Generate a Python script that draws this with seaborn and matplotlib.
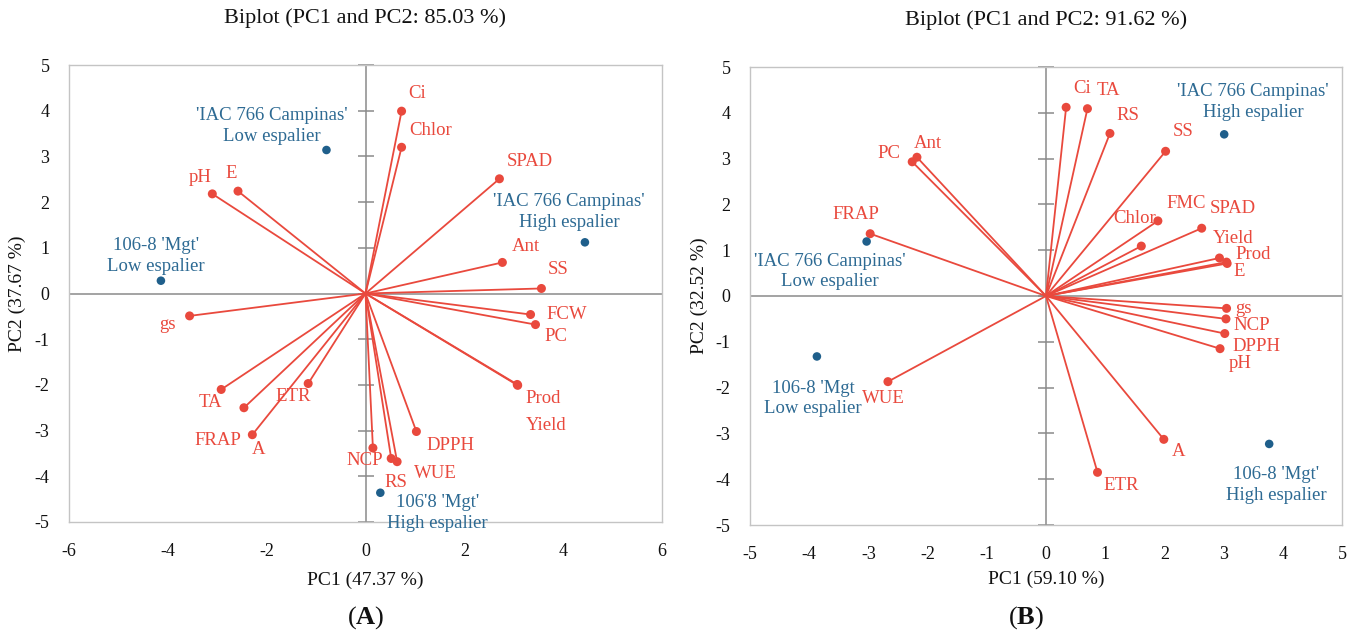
import matplotlib
matplotlib.use("Agg")
import matplotlib.pyplot as plt
import seaborn as sns
import pandas as pd
import numpy as np

# ---- Biplot A: variable loadings and observation scores ----
a_vars = ["Ci", "Chlor", "SPAD", "Ant", "SS", "FCW", "PC", "Prod", "Yield", "DPPH",
          "WUE", "RS", "NCP", "A", "FRAP", "TA", "ETR", "gs", "pH", "E"]
a_pc1 = [0.73, 0.73, 2.71, 2.77, 3.56, 3.34, 3.44, 3.07, 3.08, 1.03,
         0.64, 0.52, 0.15, -2.29, -2.46, -2.92, -1.16, -3.56, -3.10, -2.58]
a_pc2 = [3.99, 3.20, 2.51, 0.68, 0.11, -0.46, -0.68, -1.99, -2.01, -3.02,
         -3.68, -3.61, -3.38, -3.09, -2.50, -2.10, -1.97, -0.49, 2.18, 2.24]

a_obs = ["'IAC 766 Campinas'\nLow espalier", "'IAC 766 Campinas'\nHigh espalier",
         "106-8 'Mgt'\nLow espalier", "106'8 'Mgt'\nHigh espalier"]
a_obs_pc1 = [-0.79, 4.44, -4.14, 0.30]
a_obs_pc2 = [3.14, 1.12, 0.28, -4.36]

# ---- Biplot B ----
b_vars = ["Ci", "TA", "RS", "SS", "FMC", "Chlor", "SPAD", "Yield", "Prod", "E",
          "gs", "NCP", "DPPH", "pH", "A", "ETR", "WUE", "FRAP", "PC", "Ant"]
b_pc1 = [0.34, 0.70, 1.08, 2.02, 1.89, 1.61, 2.63, 2.93, 3.05, 3.06,
         3.05, 3.04, 3.02, 2.94, 1.99, 0.87, -2.67, -2.97, -2.26, -2.18]
b_pc2 = [4.12, 4.09, 3.55, 3.16, 1.64, 1.09, 1.48, 0.83, 0.74, 0.71,
         -0.27, -0.50, -0.82, -1.15, -3.13, -3.85, -1.87, 1.36, 2.93, 3.03]

b_obs = ["'IAC 766 Campinas'\nHigh espalier", "'IAC 766 Campinas'\nLow espalier",
         "106-8 'Mgt\nLow espalier", "106-8 'Mgt'\nHigh espalier"]
b_obs_pc1 = [3.01, -3.03, -3.87, 3.77]
b_obs_pc2 = [3.53, 1.19, -1.32, -3.23]

titles = ["Biplot (PC1 and PC2: 85.03 %)", "Biplot (PC1 and PC2: 91.62 %)"]
xlabels = ["PC1 (47.37 %)", "PC1 (59.10 %)"]
ylabels = ["PC2 (37.67 %)", "PC2 (32.52 %)"]
panel_tags = ["A", "B"]
a_xticks = [-6, -4, -2, 0, 2, 4, 6]
b_xticks = [-5, -4, -3, -2, -1, 0, 1, 2, 3, 4, 5]
yticks = [-5, -4, -3, -2, -1, 0, 1, 2, 3, 4, 5]

# label placement (pixel offsets from each point)
a_var_off = {"Ci": (16, 18), "Chlor": (29, 17), "SPAD": (30, 17), "Ant": (23, 16),
             "SS": (17, 19), "FCW": (36, 0), "PC": (20, -12), "Prod": (26, -14),
             "Yield": (28, -40), "DPPH": (34, -14), "WUE": (38, -12), "RS": (5, -24),
             "NCP": (-8, -13), "A": (6, -15), "FRAP": (-26, -33), "TA": (-11, -13),
             "ETR": (-15, -13), "gs": (-22, -9), "pH": (-12, 16), "E": (-7, 18)}
a_obs_off = [(-55, 24), (-16, 30), (-5, 25), (57, -20)]
b_var_off = {"Ci": (16, 19), "TA": (21, 18), "RS": (18, 18), "SS": (18, 20),
             "FMC": (28, 17), "Chlor": (-7, 28), "SPAD": (31, 20), "Yield": (14, 19),
             "Prod": (27, 8), "E": (12, -8), "gs": (17, 0), "NCP": (26, -7),
             "DPPH": (32, -13), "pH": (20, -15), "A": (15, -12), "ETR": (24, -13),
             "WUE": (-5, -17), "FRAP": (-14, 19), "PC": (-23, 8), "Ant": (11, 14)}
b_obs_off = [(29, 32), (-37, -30), (-4, -42), (7, -41)]

RED = "#E9493D"
BLUE_DOT = "#1F5F8B"
BLUE_TXT = "#2D6A93"
AXIS_GRAY = "#8A8A8A"
FRAME_GRAY = "#C4C4C4"

sns.set_theme(style="white")
plt.rcParams["font.family"] = ["Liberation Serif", "DejaVu Serif"]
plt.rcParams["axes.unicode_minus"] = False
plt.rcParams["mathtext.fontset"] = "custom"
plt.rcParams["mathtext.rm"] = "Liberation Serif"
plt.rcParams["mathtext.bf"] = "Liberation Serif:bold"

W, H = 1359, 637
fig = plt.figure(figsize=(W / 100, H / 100), dpi=100)
ax_a = fig.add_axes([69 / W, 1 - 522 / H, (662 - 69) / W, (522 - 65) / H])
ax_b = fig.add_axes([750 / W, 1 - 525 / H, (1342 - 750) / W, (525 - 67) / H])


def biplot(ax, names, pc1, pc2, obs, opc1, opc2, var_off, obs_off, xticks, xlim):
    ax.set_xlim(*xlim)
    ax.set_ylim(-5, 5)
    ax.axhline(0, color=AXIS_GRAY, lw=1.1, zorder=1)
    ax.axvline(0, color=AXIS_GRAY, lw=1.1, zorder=1)
    ax.plot(np.zeros(len(yticks)), yticks, linestyle="none", marker="_",
            markersize=11, markeredgewidth=1.1, color=AXIS_GRAY, zorder=1,
            clip_on=False)

    for x, y in zip(pc1, pc2):
        ax.plot([0, x], [0, y], color=RED, lw=1.3, zorder=2)

    var_df = pd.DataFrame({"PC1": pc1, "PC2": pc2, "var": names})
    obs_df = pd.DataFrame({"PC1": opc1, "PC2": opc2, "obs": obs})
    sns.scatterplot(data=var_df, x="PC1", y="PC2", color=RED, s=42,
                    edgecolor="none", ax=ax, zorder=3, legend=False)
    sns.scatterplot(data=obs_df, x="PC1", y="PC2", color=BLUE_DOT, s=38,
                    edgecolor="none", ax=ax, zorder=3, legend=False)

    for n, x, y in zip(names, pc1, pc2):
        ax.annotate(n, (x, y), xytext=var_off[n], textcoords="offset pixels",
                    ha="center", va="center", color=RED, fontsize=13.5, zorder=4)
    for n, x, y, off in zip(obs, opc1, opc2, obs_off):
        ax.annotate(n, (x, y), xytext=off, textcoords="offset pixels",
                    ha="center", va="center", color=BLUE_TXT, fontsize=13.5,
                    linespacing=1.3, zorder=4)

    ax.set_xticks(xticks)
    ax.set_yticks(yticks)
    ax.tick_params(axis="both", length=0, labelsize=13, colors="#111111")
    ax.tick_params(axis="y", pad=14)
    ax.tick_params(axis="x", pad=15)
    for sp in ax.spines.values():
        sp.set_color(FRAME_GRAY)
        sp.set_linewidth(1.0)
    ax.grid(False)


biplot(ax_a, a_vars, a_pc1, a_pc2, a_obs, a_obs_pc1, a_obs_pc2,
       a_var_off, a_obs_off, a_xticks, (-6, 6))
biplot(ax_b, b_vars, b_pc1, b_pc2, b_obs, b_obs_pc1, b_obs_pc2,
       b_var_off, b_obs_off, b_xticks, (-5, 5))

for ax, t, xl, yl, ypos, xpos in zip([ax_a, ax_b], titles, xlabels, ylabels,
                                     [-0.072, -0.071], [-0.108, -0.100]):
    ax.set_title(t, fontsize=16, pad=30, color="#111111")
    ax.set_xlabel(xl, fontsize=14, color="#111111")
    ax.set_ylabel(yl, fontsize=14, color="#111111")
    ax.yaxis.set_label_coords(ypos, 0.5)
    ax.xaxis.set_label_coords(0.5, xpos)

fig.text(366 / W, 1 - 618 / H, r"($\mathbf{%s}$)" % panel_tags[0], ha="center",
         va="center", fontsize=19, color="#111111")
fig.text(1026 / W, 1 - 618 / H, r"($\mathbf{%s}$)" % panel_tags[1], ha="center",
         va="center", fontsize=19, color="#111111")

fig.savefig("out.png", dpi=100, facecolor="white")
